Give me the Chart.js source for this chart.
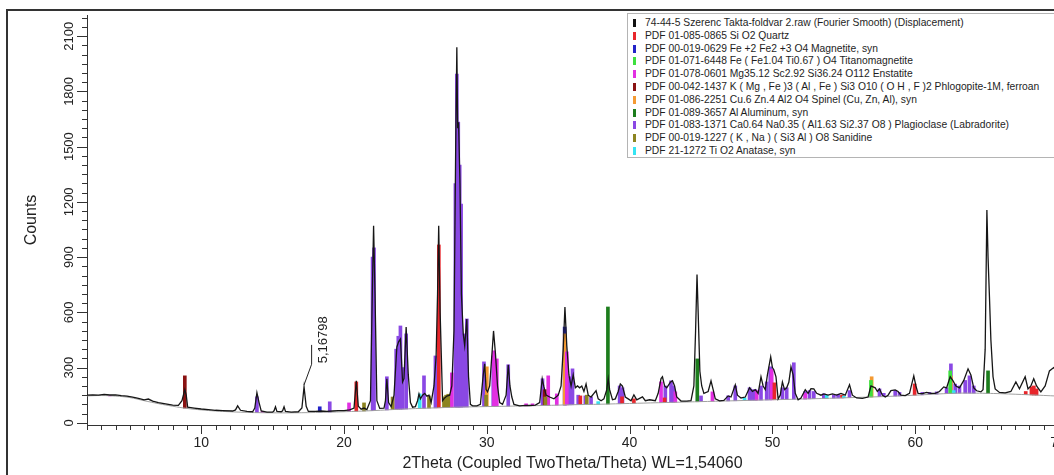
<!DOCTYPE html>
<html>
<head>
<meta charset="utf-8">
<script src="https://cdn.jsdelivr.net/npm/chart.js@4.4.1/dist/chart.umd.min.js"></script>
<style>
  html, body { margin: 0; padding: 0; background: #fff; overflow: hidden; }
  #wrap { position: relative; width: 1054px; height: 475px; overflow: hidden; }
  #box { position: absolute; left: 0; top: 0; width: 1075px; height: 475px; }
  #frame { position: absolute; left: 6px; top: 9px; width: 1100px; height: 480px;
           border-left: 2px solid #333; border-top: 2px solid #333; pointer-events: none; }
  #legend { position: absolute; left: 627px; top: 13px; width: 460px; height: 145px;
            border: 1px solid #b4b4b4; background: #fff; box-sizing: border-box; padding-top: 3px;
            font: 10.3px "Liberation Sans", Arial, sans-serif; color: #1e1e1e; }
  #legend div { position: relative; height: 12.8px; line-height: 12.8px; white-space: nowrap; padding-left: 17px; }
  #legend span { position: absolute; left: 5px; top: 2px; width: 3px; height: 8px; }
</style>
</head>
<body>
<div id="wrap">
  <div id="box"><canvas id="xrd"></canvas></div>
  <div id="frame"></div>
  <div id="legend"></div>
</div>
<script>
// axis ranges and tick labels
const X_MIN = 2, X_MAX = 70;
const Y_MIN = -12, Y_MAX = 2215;
const X_TICKS = [10, 20, 30, 40, 50, 60, 70];
const Y_TICKS = [0, 300, 600, 900, 1200, 1500, 1800, 2100];

// measured pattern (2theta, counts) - Fourier smoothed scan
const pattern = [
  [2.0,150],[2.4,152],[2.8,150],[3.2,154],[3.6,151],[4.0,152],[4.4,147],[4.8,145],[5.2,140],[5.6,133],[6.0,125],[6.3,129],[6.6,118],[7.0,110],[7.5,103],[8.0,96],[8.4,95],
  [8.65,120],[8.85,180],[8.95,150],[9.05,85],
  [9.5,80],[10.0,75],[10.5,72],[11.0,68],[11.5,66],[12.2,64],
  [12.4,70],[12.55,92],[12.75,68],[13.2,62],[13.6,60],
  [13.75,80],[13.9,163],[14.05,110],[14.2,64],[14.6,58],[15.0,58],
  [15.1,65],[15.2,87],[15.3,62],[15.6,60],[15.7,65],[15.8,87],[15.9,62],[16.3,58],[16.8,60],
  [17.05,80],[17.2,195],[17.35,90],[17.5,62],
  [18.0,62],[18.4,64],[18.8,62],[19.2,64],[19.6,66],[20.0,66],[20.4,70],
  [20.7,80],[20.86,228],[21.0,90],[21.2,74],[21.4,80],[21.6,72],
  [21.85,120],[21.98,700],[22.07,1070],[22.17,700],[22.3,120],[22.5,78],[22.8,80],
  [22.9,120],[23.0,239],[23.12,110],[23.3,88],
  [23.5,150],[23.7,412],[23.82,440],[23.95,455],[24.1,222],[24.2,240],[24.35,520],[24.5,260],[24.65,110],[24.8,85],[25.0,88],
  [25.15,120],[25.25,157],[25.35,130],[25.5,150],[25.65,160],[25.8,145],[25.95,150],[26.1,110],
  [26.3,200],[26.45,363],[26.55,700],[26.63,1070],[26.73,600],[26.9,120],
  [27.05,135],[27.2,145],[27.4,150],[27.55,200],
  [27.7,500],[27.82,1500],[27.9,2040],[27.96,1600],[28.02,1633],[28.12,1300],[28.22,700],[28.35,483],[28.45,420],[28.6,564],[28.72,250],[28.85,100],[29.0,92],
  [29.3,92],[29.55,100],
  [29.75,260],[29.85,320],[29.95,180],[30.05,168],[30.2,200],[30.4,420],[30.47,499],[30.6,380],[30.75,200],[30.9,110],[31.1,100],
  [31.35,150],[31.5,315],[31.62,200],[31.75,140],[31.9,100],
  [32.3,92],[32.7,95],[33.0,94],[33.4,96],[33.7,110],
  [33.88,239],[34.0,195],[34.15,150],[34.4,140],[34.7,130],[35.0,150],
  [35.2,200],[35.35,400],[35.47,629],[35.6,420],[35.75,260],[35.9,200],[36.05,260],[36.2,190],
  [36.35,200],[36.5,190],[36.65,200],[36.8,170],[36.95,211],[37.1,150],[37.3,140],[37.5,160],[37.65,174],[37.8,130],[38.0,120],[38.2,130],
  [38.4,180],[38.5,239],[38.6,180],[38.8,125],[39.0,130],[39.2,170],
  [39.35,211],[39.5,200],[39.7,140],[39.9,130],[40.1,120],[40.3,152],[40.5,125],[40.9,141],[41.1,120],[41.4,125],[41.8,120],
  [42.0,160],[42.2,240],[42.3,250],[42.45,200],[42.6,190],[42.85,220],[43.0,228],[43.15,200],[43.3,140],[43.6,118],[44.0,118],[44.3,120],
  [44.5,200],[44.62,500],[44.72,805],[44.8,600],[44.92,280],[45.05,200],[45.2,160],[45.5,170],
  [45.7,228],[45.85,180],[46.0,130],[46.3,119],[46.6,122],[46.9,146],[47.1,140],
  [47.4,206],[47.55,150],[47.8,135],[48.1,140],[48.4,190],[48.6,170],[48.8,180],[49.0,160],
  [49.2,250],[49.35,200],[49.5,180],[49.65,260],[49.88,358],[50.0,300],[50.1,288],[50.25,250],[50.4,130],[50.55,150],
  [50.7,222],[50.85,180],[51.0,190],[51.15,220],[51.3,304],[51.45,260],[51.6,160],[51.8,125],[52.0,135],
  [52.3,180],[52.5,160],[52.7,185],[52.9,184],[53.1,160],[53.4,150],[53.6,157],[53.9,150],[54.2,157],[54.5,150],[54.8,160],[55.1,150],
  [55.4,206],[55.6,150],[55.9,135],[56.3,133],[56.7,140],
  [56.9,200],[57.2,190],[57.35,170],[57.5,184],[57.7,150],[57.9,140],[58.1,150],[58.3,175],[58.6,179],[58.8,170],[59.0,150],[59.3,148],[59.6,160],
  [59.9,255],[60.05,200],[60.2,160],[60.5,158],[60.8,165],[61.1,160],[61.4,160],[61.7,170],[62.0,195],[62.2,190],
  [62.45,250],[62.65,228],[62.85,200],[63.1,190],[63.4,230],[63.7,293],[63.9,260],[64.1,190],[64.3,174],[64.6,168],
  [64.75,180],[64.9,400],[65.02,1156],[65.1,900],[65.2,684],[65.3,450],[65.45,250],[65.6,184],[65.9,165],[66.3,163],[66.7,170],
  [67.05,222],[67.3,185],[67.7,250],[67.9,184],[68.1,200],[68.3,239],[68.5,200],[68.8,168],[69.1,200],[69.4,282],[69.7,300],[70.0,280]
];

// fitted background curve
const background = [
  [2,146],[3,148],[4,145],[5,137],[6,120],[7,104],[8,90],[9,78],[10,70],[11,64],[12,60],[13,57],[14,55],[16,54],[18,56],
  [20,60],[22,66],[24,74],[26,80],[28,85],[30,88],[32,91],[34,94],[36,98],[38,101],[40,105],[42,109],[44,113],[46,117],
  [48,121],[50,125],[52,129],[54,133],[56,138],[58,143],[60,150],[62,158],[63,161],[64,161],[65,160],[66,158],[68,152],[70,145]
];

// reference sticks per phase: [2theta, top counts]
const quartz = [[20.86,222],[26.64,966],[36.55,146],[39.47,141],[40.3,130],[42.45,135],[50.14,217],[54.87,150],[59.96,211],[67.74,170],[68.14,195],[68.31,200],[68.5,184]];
const magnetite = [[18.3,87],[35.45,520]];
const titanomagnetite = [[56.9,230],[62.45,282]];
const enstatite = [[3.6,146],[14.3,62],[20.35,108],[27.55,271],[30.5,391],[30.7,347],[32.75,103],[33.2,103],[34.3,255],[34.9,157],[35.6,385],[42.2,222],[43.2,168],[45.8,168],[48.9,175],[49.95,290],[52.3,160]];
const phlogopite = [[8.85,255],[34.05,180]];
const spinel = [[30.0,304],[35.45,483],[56.95,250],[62.5,255]];
const aluminum = [[38.48,629],[44.74,347],[65.1,282]];
const plagioclase = [
  [13.9,141],[19.0,114],[22.0,900],[22.1,950],[23.0,250],[23.65,400],[23.8,470],[23.95,526],[24.1,300],[24.35,483],[25.6,255],[26.4,363],
  [27.8,1300],[27.9,1894],[28.0,1633],[28.1,1400],[28.2,1188],[28.35,483],[28.6,564],[29.8,331],[30.45,363],[30.6,300],[31.5,315],[33.9,239],
  [35.5,380],[35.8,250],[36.0,293],[36.4,150],[36.9,146],[37.3,140],[39.3,200],[39.5,190],[42.5,200],[42.9,228],[43.05,200],[45.0,146],
  [46.9,146],[47.4,200],[48.4,190],[48.6,180],[48.8,180],[49.2,200],[49.6,222],[49.85,304],[50.7,190],[51.0,190],[51.5,326],[52.3,170],
  [52.6,175],[52.9,170],[53.6,157],[54.3,150],[54.6,155],[55.4,175],[57.5,184],[57.8,160],[58.6,175],[58.9,165],[60.5,165],[61.0,165],
  [61.5,168],[62.2,190],[62.5,320],[62.8,210],[63.1,200],[63.5,230],[63.8,255],[64.1,200]
];
const sanidine = [[21.4,108],[23.4,140],[25.95,146],[27.0,141],[27.15,150],[27.3,155],[29.95,150],[34.1,140],[37.0,150]];
const anatase = [[25.3,157],[37.8,115],[48.05,135],[53.8,150],[55.0,145],[62.7,175]];

// legend rows
const scanName = '74-44-5 Szerenc Takta-foldvar 2.raw (Fourier Smooth) (Displacement)';
const phaseNames = [
  'PDF 01-085-0865 Si O2 Quartz',
  'PDF 00-019-0629 Fe +2 Fe2 +3 O4 Magnetite, syn',
  'PDF 01-071-6448 Fe ( Fe1.04 Ti0.67 ) O4 Titanomagnetite',
  'PDF 01-078-0601 Mg35.12 Sc2.92 Si36.24 O112 Enstatite',
  'PDF 00-042-1437 K ( Mg , Fe )3 ( Al , Fe ) Si3 O10 ( O H , F )2 Phlogopite-1M, ferroan',
  'PDF 01-086-2251 Cu.6 Zn.4 Al2 O4 Spinel (Cu, Zn, Al), syn',
  'PDF 01-089-3657 Al Aluminum, syn',
  'PDF 01-083-1371 Ca0.64 Na0.35 ( Al1.63 Si2.37 O8 ) Plagioclase (Labradorite)',
  'PDF 00-019-1227 ( K , Na ) ( Si3 Al ) O8 Sanidine',
  'PDF 21-1272 Ti O2 Anatase, syn'
];
const phaseColors = ['#e8262b', '#2323c8', '#3ee03e', '#e22fe2', '#8a1212', '#f49a32', '#1d7d1d', '#8a48e4', '#8c8420', '#35e4f2'];
const phaseSticks = [quartz, magnetite, titanomagnetite, enstatite, phlogopite, spinel, aluminum, plagioclase, sanidine, anatase];
// higher number is painted first (underneath)
const phaseOrder = [15, 19, 17, 16, 14, 18, 13, 20, 12, 11];

// d-spacing label on the 17.2 peak
const note = { x: 17.2, y: 195, elbowX: 17.73, elbowY: 318, barTop: 423, text: '5,16798' };

const NARROW = "'Liberation Sans Narrow', 'Arial Narrow', 'Liberation Sans', Arial, sans-serif";

// sticks stand on the background curve
function bgAt(t) {
  for (let i = 1; i < background.length; i++) {
    if (t <= background[i][0]) {
      const [x0, y0] = background[i - 1], [x1, y1] = background[i];
      return y0 + (y1 - y0) * (t - x0) / (x1 - x0);
    }
  }
  return background[background.length - 1][1];
}

const datasets = [
  { type: 'line', label: scanName, data: pattern.map(p => ({ x: p[0], y: p[1] })),
    borderColor: '#161616', borderWidth: 1.3, pointRadius: 0, tension: 0, order: 1 },
  { type: 'line', label: 'background', data: background.map(p => ({ x: p[0], y: p[1] })),
    borderColor: '#a0a0a0', borderWidth: 1, pointRadius: 0, tension: 0.4, order: 2 }
];
phaseSticks.forEach((sticks, i) => {
  datasets.push({
    type: 'bar', label: phaseNames[i],
    data: sticks.map(s => ({ x: s[0], y: [bgAt(s[0]), s[1]] })),
    backgroundColor: phaseColors[i], barThickness: 3, grouped: false, order: phaseOrder[i]
  });
});

// legend box
const legend = document.getElementById('legend');
[[scanName, '#111']].concat(phaseNames.map((n, i) => [n, phaseColors[i]])).forEach(([name, col]) => {
  const row = document.createElement('div');
  row.innerHTML = '<span style="background:' + col + '"></span>' + name;
  legend.appendChild(row);
});

// tick marks, tick labels and the peak note
const axisMarks = {
  id: 'axisMarks',
  afterDraw(chart) {
    const { ctx, scales: { x, y }, chartArea: a } = chart;
    ctx.save();
    ctx.strokeStyle = '#333';
    ctx.lineWidth = 1;
    ctx.beginPath();
    for (let t = X_MIN; t <= X_MAX; t++) {
      const px = Math.round(x.getPixelForValue(t)) + 0.5;
      ctx.moveTo(px, a.bottom);
      ctx.lineTo(px, a.bottom + (t % 10 === 0 ? 9 : 5));
    }
    for (let v = 0; v <= Y_MAX; v += 50) {
      const py = Math.round(y.getPixelForValue(v)) + 0.5;
      ctx.moveTo(a.left, py);
      ctx.lineTo(a.left - (v % 300 === 0 ? 10 : 5), py);
    }
    ctx.stroke();

    ctx.fillStyle = '#222';
    ctx.font = '14px ' + NARROW;
    ctx.textAlign = 'center';
    ctx.textBaseline = 'middle';
    X_TICKS.forEach(v => ctx.fillText(String(v), x.getPixelForValue(v), 443));
    ctx.font = '13px ' + NARROW;
    Y_TICKS.forEach(v => {
      ctx.save();
      ctx.translate(69, y.getPixelForValue(v));
      ctx.rotate(-Math.PI / 2);
      ctx.fillText(String(v), 0, 0);
      ctx.restore();
    });

    // note leader
    const ex = x.getPixelForValue(note.elbowX), ey = y.getPixelForValue(note.elbowY);
    ctx.strokeStyle = '#222';
    ctx.beginPath();
    ctx.moveTo(x.getPixelForValue(note.x), y.getPixelForValue(note.y) - 2);
    ctx.lineTo(ex, ey);
    ctx.lineTo(ex, y.getPixelForValue(note.barTop));
    ctx.stroke();
    ctx.font = '13px "Liberation Sans", Arial, sans-serif';
    ctx.textAlign = 'left';
    ctx.translate(ex + 12, ey - 1);
    ctx.rotate(-Math.PI / 2);
    ctx.fillText(note.text, 0, 0);
    ctx.restore();
  }
};

new Chart(document.getElementById('xrd'), {
  type: 'bar',
  data: { datasets },
  plugins: [axisMarks],
  options: {
    responsive: true,
    maintainAspectRatio: false,
    animation: false,
    layout: { padding: { left: 0, right: 17, top: 15, bottom: 0 } },
    plugins: { legend: { display: false }, tooltip: { enabled: false } },
    scales: {
      x: {
        type: 'linear', min: X_MIN, max: X_MAX, offset: false,
        ticks: { display: false },
        grid: { display: false },
        border: { display: true, color: '#333', width: 1 },
        title: { display: true, text: '2Theta (Coupled TwoTheta/Theta) WL=1,54060', color: '#222',
                 font: { family: "'Liberation Sans', Arial, sans-serif", size: 16 }, padding: { top: 0, bottom: 2 } },
        afterFit: s => { s.height = 50; }
      },
      y: {
        min: Y_MIN, max: Y_MAX,
        ticks: { display: false },
        grid: { display: false },
        border: { display: true, color: '#333', width: 1 },
        title: { display: true, text: 'Counts', color: '#222',
                 font: { family: NARROW, size: 16 }, padding: { top: 22, bottom: 0 } },
        afterFit: s => { s.width = 87; }
      }
    }
  }
});
</script>
</body>
</html>
